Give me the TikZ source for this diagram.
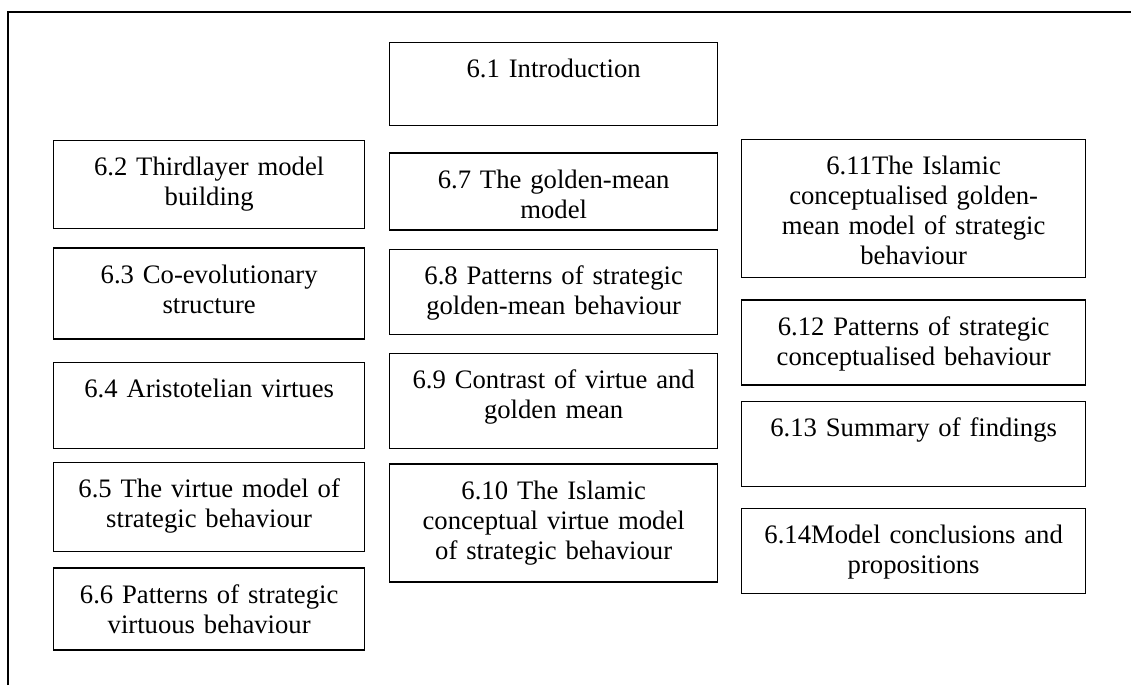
\documentclass[tikz,border=0pt]{standalone}
\usepackage{fontspec}
\setmainfont{Liberation Serif}
\usepackage{tikz}
\usetikzlibrary{positioning}

\begin{document}
\begin{tikzpicture}[x=.45pt,y=-.45pt,font=\fontsize{12}{13.5}\selectfont,
  frame/.style={draw=black,line width=.6pt},
  sect/.style 2 args={draw=black,line width=.6pt,inner sep=0pt,anchor=north west,
                      align=center,text width=#1*.45pt,text height=15.75pt,
                      text depth={(#2-35)*.45pt}}]

  \useasboundingbox (0,0) rectangle (1131,685);
  \draw[frame] (8,685) -- (8,12) -- (1131,12);

  \node[sect={311}{88}] (thirdlayer) at (53,140) {6.2 Thirdlayer model\\ building};
  \node[sect={311}{91},below=8.1pt of thirdlayer] (coevol) {6.3 Co-evolutionary\\ structure};
  \node[sect={311}{86},below=9.9pt of coevol] (virtues) {6.4 Aristotelian virtues};
  \node[sect={311}{89},below=5.85pt of virtues] (virtmodel) {6.5 The virtue model of\\ strategic behaviour};
  \node[sect={311}{82},below=6.75pt of virtmodel] (virtpat) {6.6 Patterns of strategic\\ virtuous behaviour};

  \node[sect={328}{83}] (intro) at (389,42) {6.1 Introduction};
  \node[sect={328}{77},below=11.7pt of intro] (goldmodel) {6.7 The golden-mean\\ model};
  \node[sect={328}{85},below=8.1pt of goldmodel] (goldpat) {6.8 Patterns of strategic\\ golden-mean behaviour};
  \node[sect={328}{95},below=8.1pt of goldpat] (contrast) {6.9 Contrast of virtue and\\ golden mean};
  \node[sect={328}{118},below=6.3pt of contrast] (islvirt) {6.10 The Islamic\\ conceptual virtue model\\ of strategic behaviour};

  \node[sect={344}{138}] (islgold) at (741,139) {6.11The Islamic\\ conceptualised golden-\\ mean model of strategic\\ behaviour};
  \node[sect={344}{85},below=9.45pt of islgold] (conceptpat) {6.12 Patterns of strategic\\ conceptualised behaviour};
  \node[sect={344}{85},below=6.75pt of conceptpat] (summary) {6.13 Summary of findings};
  \node[sect={344}{85},below=9.45pt of summary] (conclusions) {6.14Model conclusions and\\ propositions};
\end{tikzpicture}
\end{document}
